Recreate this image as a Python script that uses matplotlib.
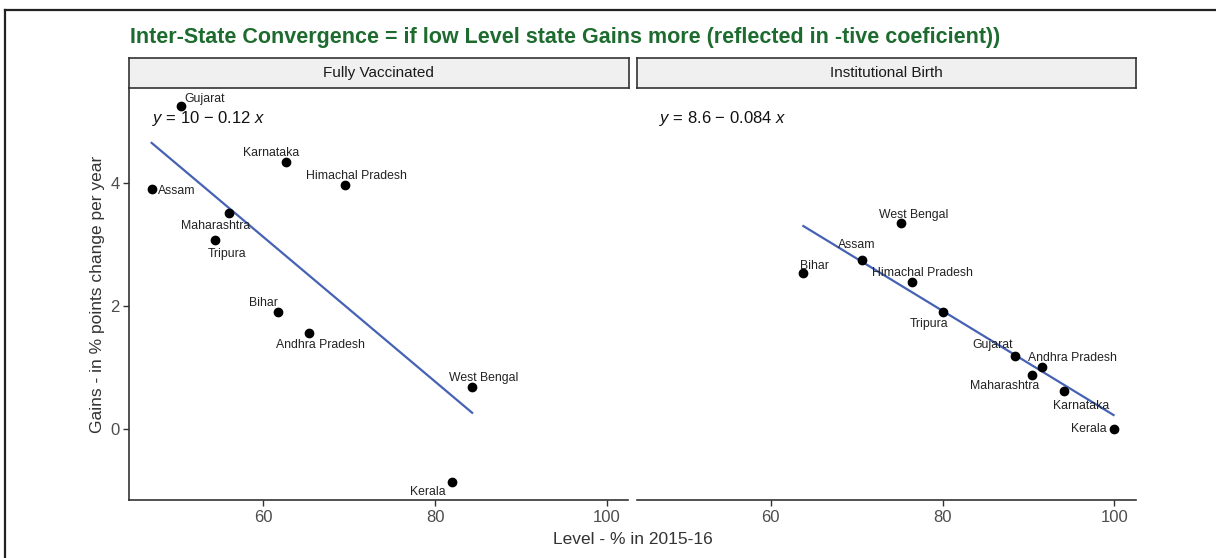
import numpy as np
import matplotlib.pyplot as plt
from matplotlib.lines import Line2D

plt.rcParams['font.family'] = ['Liberation Sans', 'DejaVu Sans']
plt.rcParams['mathtext.fontset'] = 'custom'
plt.rcParams['mathtext.rm'] = 'Liberation Sans'
plt.rcParams['mathtext.it'] = 'Liberation Sans:italic'

panels = ["Fully Vaccinated", "Institutional Birth"]

vacc_states = ["Gujarat", "Assam", "Karnataka", "Himachal Pradesh", "Maharashtra",
               "Tripura", "Bihar", "Andhra Pradesh", "West Bengal", "Kerala"]
vacc_level = [50.4, 47.0, 62.6, 69.5, 56.0, 54.4, 61.7, 65.3, 84.3, 82.0]
vacc_gain = [5.24, 3.90, 4.34, 3.97, 3.50, 3.06, 1.89, 1.56, 0.68, -0.87]

birth_states = ["West Bengal", "Assam", "Bihar", "Himachal Pradesh", "Tripura",
                "Gujarat", "Andhra Pradesh", "Maharashtra", "Karnataka", "Kerala"]
birth_level = [75.2, 70.6, 63.8, 76.4, 80.0, 88.4, 91.6, 90.4, 94.1, 99.9]
birth_gain = [3.34, 2.74, 2.53, 2.39, 1.89, 1.18, 1.01, 0.88, 0.61, 0.0]

equations = [r"$y$ = 10 $-$ 0.12 $x$", r"$y$ = 8.6 $-$ 0.084 $x$"]

# label nudges in pixels (dx, dy) so names sit clear of the dots
vacc_nudge = [(24, 7), (25, -2), (-15, 9), (11, 9), (-13, -13),
              (12, -14), (-15, 9), (12, -12), (12, 9), (-25, -10)]
birth_nudge = [(12, 8), (-5, 15), (11, 7), (11, 9), (-14, -12),
               (-22, 11), (30, 9), (-27, -11), (17, -15), (-25, 0)]

data = [(vacc_states, vacc_level, vacc_gain, vacc_nudge),
        (birth_states, birth_level, birth_gain, birth_nudge)]

W, H = 1216, 558
fig = plt.figure(figsize=(W / 100, H / 100), dpi=100)

dark = '#333333'
ax_left = [129.3, 636.7]
ax_w = 499.2
ax_top, ax_bot = 88.3, 500
strip_top = 58.3

for i, (states, level, gain, nudge) in enumerate(data):
    ax = fig.add_axes([ax_left[i] / W, (H - ax_bot) / H, ax_w / W, (ax_bot - ax_top) / H])

    # fitted line over the data range
    slope, icpt = np.polyfit(level, gain, 1)
    xs = np.array([min(level), max(level)])
    ax.plot(xs, icpt + slope * xs, color='#4562B4', lw=1.6, zorder=2)

    ax.scatter(level, gain, s=36, color='black', zorder=3)
    for name, x, y, (dx, dy) in zip(states, level, gain, nudge):
        ax.annotate(name, (x, y), xytext=(dx, dy), textcoords='offset pixels',
                    ha='center', va='center', fontsize=8.8, color='#222222', zorder=4)

    ax.text(47.0, 5.04, equations[i], fontsize=12, ha='left', va='center', color='#111111')

    ax.set_xlim(44.4, 102.5)
    ax.set_ylim(-1.16, 5.535)
    ax.set_xticks([60, 80, 100])
    ax.set_yticks([0, 2, 4])
    for s in ['top', 'right']:
        ax.spines[s].set_visible(False)
    ax.spines['bottom'].set_color(dark)
    ax.spines['bottom'].set_linewidth(1.2)
    ax.spines['left'].set_color(dark)
    ax.spines['left'].set_linewidth(1.2)
    ax.tick_params(length=4, width=1, color=dark, labelsize=12, labelcolor='#4D4D4D', pad=3)
    if i == 1:
        ax.spines['left'].set_visible(False)
        ax.tick_params(axis='y', left=False, labelleft=False)
    else:
        ax.set_ylabel("Gains - in % points change per year", fontsize=12.5, color='#333333', labelpad=4)

    # facet strip
    sax = fig.add_axes([ax_left[i] / W, (H - ax_top) / H, ax_w / W, (ax_top - strip_top) / H])
    sax.set_xticks([])
    sax.set_yticks([])
    sax.set_facecolor('#F0F0F0')
    for s in sax.spines.values():
        s.set_color(dark)
        s.set_linewidth(1.2)
    sax.text(0.5, 0.5, panels[i], ha='center', va='center', fontsize=11, color='#1A1A1A',
             transform=sax.transAxes)

fig.text(632.8 / W, 1 - 540 / H, "Level - % in 2015-16", ha='center', va='center',
         fontsize=12.5, color='#333333')

fig.text(130 / W, 1 - 37 / H,
         "Inter-State Convergence = if low Level state Gains more (reflected in -tive coeficient))",
         ha='left', va='center', fontsize=15.5, fontweight='bold', color='#1D6B2F')

# outer frame
fig.add_artist(Line2D([4.7 / W, 1], [1 - 9.5 / H, 1 - 9.5 / H], color='#222222', lw=1.6))
fig.add_artist(Line2D([4.7 / W, 4.7 / W], [0, 1 - 9.5 / H], color='#222222', lw=1.6))

fig.savefig('out.png', dpi=100)
